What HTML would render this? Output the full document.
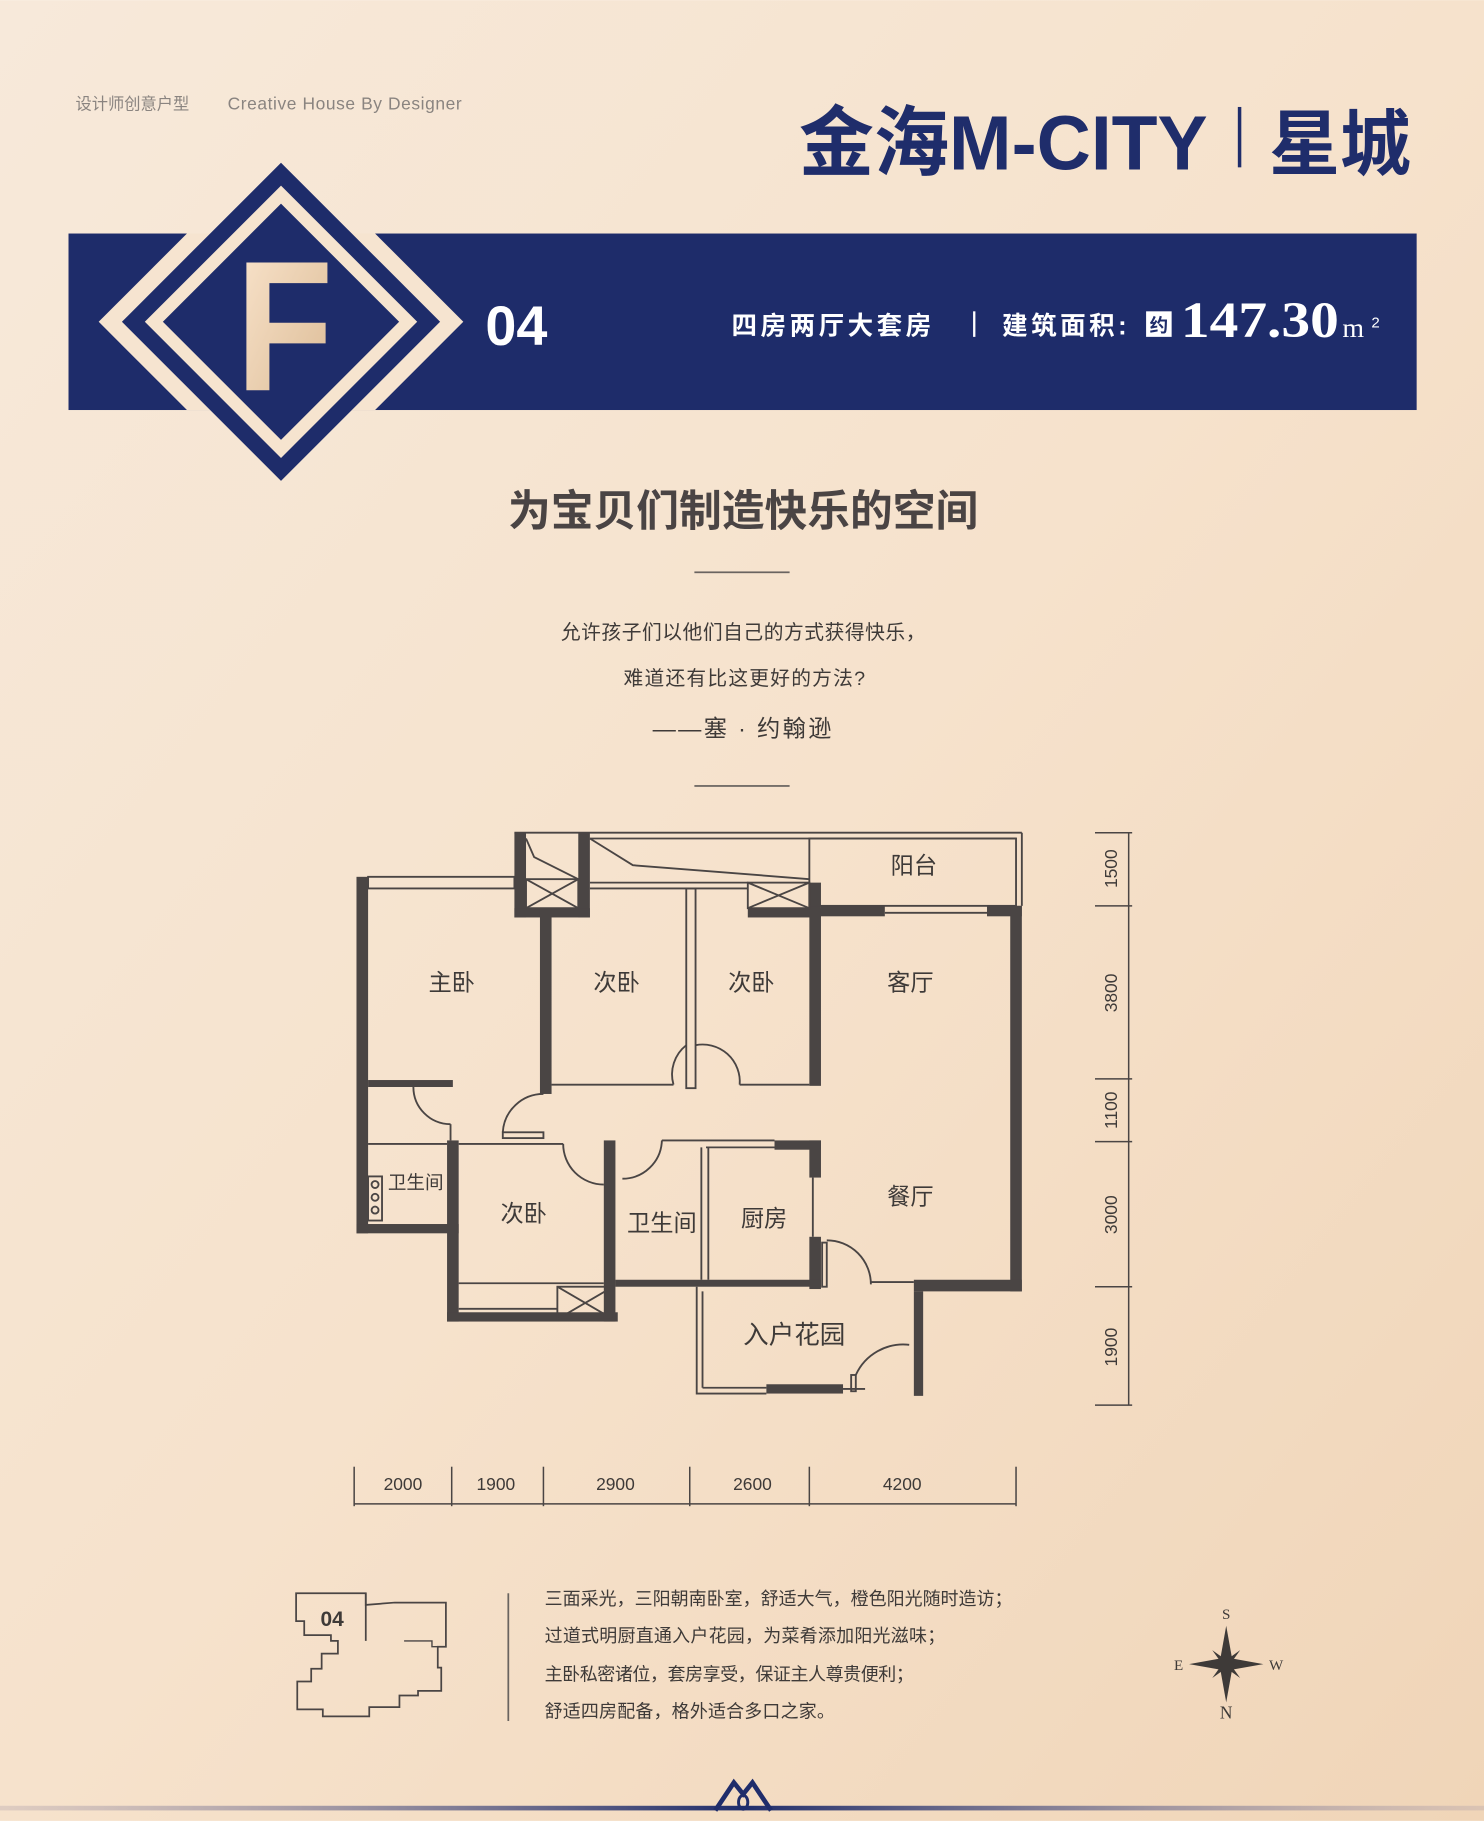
<!DOCTYPE html>
<html><head><meta charset="utf-8"><style>
html,body{margin:0;padding:0;}
body{width:1484px;height:1821px;overflow:hidden;}
svg{display:block;}
.cn{font-family:"Liberation Sans","Noto Sans CJK SC",sans-serif;}
</style></head><body>
<svg width="1484" height="1821" viewBox="0 0 1278 1568" xmlns="http://www.w3.org/2000/svg" class="cn">
<defs>
<linearGradient id="bg" x1="0" y1="0" x2="1" y2="1">
<stop offset="0" stop-color="#f7e9da"/><stop offset="0.5" stop-color="#f6e2cc"/><stop offset="1" stop-color="#f0d5b8"/></linearGradient>
<linearGradient id="fg" x1="0" y1="0" x2="1" y2="1"><stop offset="0" stop-color="#fbe6cf"/><stop offset="1" stop-color="#d9b891"/></linearGradient>
<linearGradient id="bl" x1="0" y1="0" x2="1" y2="0"><stop offset="0" stop-color="#a89aa8" stop-opacity="0.3"/><stop offset="0.5" stop-color="#1f2d6b"/><stop offset="1" stop-color="#a89aa8" stop-opacity="0.3"/></linearGradient>
<clipPath id="bc"><rect x="59" y="201" width="1161" height="152"/></clipPath>
</defs>
<rect width="1278" height="1568" fill="url(#bg)"/>
<text x="65" y="94" font-size="14" fill="#8a8480">设计师创意户型</text>
<text x="196" y="94" font-size="15" fill="#8a8480" letter-spacing="0.5">Creative  House  By  Designer</text>
<text x="688" y="146" font-size="66" font-weight="bold" fill="#1f2d6b" textLength="352" lengthAdjust="spacingAndGlyphs">金海M-CITY</text>
<rect x="1066" y="92" width="3" height="52" fill="#1f2d6b"/>
<text x="1093" y="146" font-size="62" font-weight="bold" fill="#1f2d6b" textLength="122" lengthAdjust="spacingAndGlyphs">星城</text>
<rect x="59" y="201" width="1161" height="152" fill="#1e2c6a"/>
<polygon points="242,120 399,277 242,434 85,277" fill="#f6e4d0" clip-path="url(#bc)"/>
<polygon points="242,140 379,277 242,414 105,277" fill="#1e2c6a"/>
<polygon points="242,167.5 351.5,277 242,386.5 132.5,277" fill="none" stroke="#f6e4cf" stroke-width="11"/>
<text x="245" y="336" font-size="160" font-weight="bold" fill="url(#fg)" text-anchor="middle" font-family="Liberation Sans,sans-serif" textLength="84" lengthAdjust="spacingAndGlyphs">F</text>
<text x="418" y="297" font-size="48" font-weight="bold" fill="#fff" font-family="Liberation Sans,sans-serif">04</text>
<text x="630" y="288" font-size="22" fill="#fff" font-weight="bold" letter-spacing="3">四房两厅大套房</text>
<rect x="838" y="268" width="2" height="22" fill="#fff"/>
<text x="863" y="288" font-size="22" fill="#fff" font-weight="bold" letter-spacing="3">建筑面积:</text>
<rect x="987" y="268" width="22" height="22" fill="#fff"/>
<text x="998" y="286" font-size="16" fill="#1e2c6a" text-anchor="middle" font-weight="bold">约</text>
<text x="1017" y="290" font-size="44" font-weight="bold" fill="#fff" font-family="Liberation Serif,serif" textLength="136" lengthAdjust="spacingAndGlyphs">147.30</text>
<text x="1156" y="290" font-size="24" fill="#fff" font-family="Liberation Serif,serif">m</text>
<text x="1181" y="282" font-size="13" fill="#fff">2</text>
<text x="640" y="453" font-size="37" font-weight="bold" fill="#4a4444" text-anchor="middle" textLength="405" lengthAdjust="spacingAndGlyphs">为宝贝们制造快乐的空间</text>
<rect x="598" y="492" width="82" height="1.5" fill="#6a6460"/>
<text x="640" y="550" font-size="17" fill="#3e3a38" text-anchor="middle" textLength="314">允许孩子们以他们自己的方式获得快乐，</text>
<text x="641" y="590" font-size="17" fill="#3e3a38" text-anchor="middle" textLength="208">难道还有比这更好的方法?</text>
<text x="639" y="634" font-size="20" fill="#3e3a38" text-anchor="middle" textLength="154">——塞 · 约翰逊</text>
<rect x="598" y="676" width="82" height="1.5" fill="#6a6460"/>
<!-- floor plan -->
<g fill="#4a4544" stroke="none">
<rect x="307" y="755" width="10" height="307"/>
<rect x="307" y="1054" width="88" height="8"/>
<rect x="443" y="717" width="10" height="73"/>
<rect x="498" y="717" width="10" height="73"/>
<rect x="443" y="782" width="65" height="8"/>
<rect x="465" y="782" width="10" height="160"/>
<rect x="644" y="782" width="63" height="8"/>
<rect x="697" y="760" width="10" height="175"/>
<rect x="707" y="780" width="55" height="9"/>
<rect x="850" y="780" width="30" height="9"/>
<rect x="870" y="780" width="10" height="332"/>
<rect x="787" y="1102" width="93" height="10"/>
<rect x="787" y="1112" width="8" height="90"/>
<rect x="660" y="1192" width="66" height="8"/>
<rect x="385" y="982" width="10" height="156"/>
<rect x="385" y="1130" width="147" height="8"/>
<rect x="520" y="982" width="10" height="156"/>
<rect x="667" y="982" width="40" height="8"/>
<rect x="697" y="982" width="10" height="32"/>
<rect x="697" y="1065" width="10" height="45"/>
<rect x="530" y="1102" width="177" height="6"/>
<rect x="317" y="930" width="73" height="6"/>
</g>
<g fill="none" stroke="#4a4544" stroke-width="1.6">
<rect x="317" y="755" width="126" height="10"/>
<line x1="443" y1="717" x2="880" y2="717"/><line x1="508" y1="722" x2="875" y2="722"/>
<rect x="697" y="722" width="178" height="58"/><line x1="880" y1="717" x2="880" y2="780"/>
<rect x="453" y="757" width="45" height="25"/><line x1="453" y1="757" x2="498" y2="782"/><line x1="498" y1="757" x2="453" y2="782"/>
<rect x="644" y="760" width="53" height="22"/><line x1="644" y1="760" x2="697" y2="782"/><line x1="697" y1="760" x2="644" y2="782"/>
<polyline points="453,722 460,738 498,757"/><polyline points="508,722 545,745 697,757"/>
<line x1="508" y1="760" x2="644" y2="760"/><line x1="508" y1="765" x2="644" y2="765"/>
<rect x="591" y="765" width="8" height="172"/>
<line x1="475" y1="934" x2="580" y2="934"/><line x1="637" y1="934" x2="697" y2="934"/>
<path d="M580,934 A32,32 0 0 1 591,900"/><path d="M637,934 A32,32 0 0 0 599,900"/>
<line x1="762" y1="786" x2="850" y2="786"/>
<path d="M356,936 A32,32 0 0 0 388,968"/><line x1="388" y1="968" x2="388" y2="982"/>
<line x1="317" y1="985" x2="385" y2="985"/>
<path d="M433,975 A35,35 0 0 1 468,942"/><rect x="433" y="975" width="35" height="5"/>
<line x1="395" y1="985" x2="485" y2="985"/>
<path d="M485,985 A35,35 0 0 0 520,1020"/>
<line x1="570" y1="982" x2="667" y2="982"/><line x1="608" y1="988" x2="667" y2="988"/>
<path d="M570,982 A34,34 0 0 1 536,1015"/>
<line x1="604" y1="988" x2="604" y2="1102"/><line x1="610" y1="988" x2="610" y2="1102"/>
<line x1="395" y1="1105" x2="520" y2="1105"/><line x1="395" y1="1127" x2="480" y2="1127"/>
<rect x="480" y="1108" width="48" height="28"/><line x1="480" y1="1108" x2="528" y2="1136"/><line x1="528" y1="1108" x2="480" y2="1136"/>
<line x1="700" y1="1014" x2="700" y2="1065"/>
<rect x="708" y="1070" width="4" height="38"/><path d="M712,1068 A38,38 0 0 1 750,1106"/>
<line x1="750" y1="1104" x2="787" y2="1104"/>
<polyline points="600,1108 600,1200 660,1200"/><line x1="605" y1="1112" x2="605" y2="1195"/>
<line x1="605" y1="1195" x2="660" y2="1195"/>
<line x1="726" y1="1196" x2="745" y2="1196"/><rect x="733" y="1184" width="4" height="14"/><path d="M737,1184 A45,45 0 0 1 783,1158"/>
<rect x="317" y="1013" width="12" height="38"/><circle cx="323" cy="1020" r="3"/><circle cx="323" cy="1031" r="3"/><circle cx="323" cy="1042" r="3"/>
</g>
<g font-size="20" fill="#3e3a38" text-anchor="middle">
<text x="787" y="752">阳台</text><text x="389" y="853">主卧</text><text x="531" y="853">次卧</text><text x="647" y="853">次卧</text>
<text x="784" y="853">客厅</text><text x="784" y="1037">餐厅</text><text x="451" y="1052">次卧</text>
<text x="570" y="1060">卫生间</text><text x="658" y="1056">厨房</text><text x="684" y="1157" font-size="22">入户花园</text>
<text x="358" y="1024" font-size="16">卫生间</text>
</g>
<!-- dims -->
<g stroke="#4a4544" stroke-width="1.3" fill="none">
<line x1="972" y1="717" x2="972" y2="1210"/>
<line x1="943" y1="717" x2="975" y2="717"/><line x1="943" y1="780" x2="975" y2="780"/><line x1="943" y1="929" x2="975" y2="929"/><line x1="943" y1="983" x2="975" y2="983"/><line x1="943" y1="1108" x2="975" y2="1108"/><line x1="943" y1="1210" x2="975" y2="1210"/>
<line x1="305" y1="1295" x2="875" y2="1295"/>
<line x1="305" y1="1263" x2="305" y2="1297"/><line x1="389" y1="1263" x2="389" y2="1297"/><line x1="468" y1="1263" x2="468" y2="1297"/><line x1="594" y1="1263" x2="594" y2="1297"/><line x1="697" y1="1263" x2="697" y2="1297"/><line x1="875" y1="1263" x2="875" y2="1297"/>
</g>
<g font-size="15" fill="#3e3a38" font-family="Liberation Sans,sans-serif" text-anchor="middle">
<text transform="translate(962,748) rotate(-90)">1500</text><text transform="translate(962,855) rotate(-90)">3800</text>
<text transform="translate(962,956) rotate(-90)">1100</text><text transform="translate(962,1046) rotate(-90)">3000</text>
<text transform="translate(962,1160) rotate(-90)">1900</text>
<text x="347" y="1283">2000</text><text x="427" y="1283">1900</text><text x="530" y="1283">2900</text><text x="648" y="1283">2600</text><text x="777" y="1283">4200</text>
</g>
<!-- bottom -->
<polyline fill="none" stroke="#4a4544" stroke-width="1.5" points="255,1378 255,1372 315,1372 315,1382 340,1380 384,1380 384,1418 377,1418 377,1436 380,1436 380,1456 360,1456 360,1460 344,1460 344,1470 318,1470 318,1478 278,1478 278,1472 256,1472 256,1448 268,1448 268,1437 277,1437 277,1424 291,1424 291,1413 285,1413 285,1408 262,1408 262,1396 255,1396 255,1378"/>
<polyline fill="none" stroke="#4a4544" stroke-width="1.5" points="315,1372 315,1413"/>
<polyline fill="none" stroke="#4a4544" stroke-width="1.2" points="348,1413 372,1413 372,1418 384,1418"/>
<text x="276" y="1400" font-size="18" font-weight="bold" fill="#3e3a38" font-family="Liberation Sans,sans-serif">04</text>
<rect x="437" y="1372" width="1.5" height="110" fill="#6a6460"/>
<g font-size="15.5" fill="#3e3a38">
<text x="469" y="1382" textLength="403">三面采光，三阳朝南卧室，舒适大气，橙色阳光随时造访；</text>
<text x="469" y="1414" textLength="345">过道式明厨直通入户花园，为菜肴添加阳光滋味；</text>
<text x="469" y="1447" textLength="318">主卧私密诸位，套房享受，保证主人尊贵便利；</text>
<text x="469" y="1479" textLength="250">舒适四房配备，格外适合多口之家。</text>
</g>
<g fill="#3e3a38">
<polygon points="1056,1400 1061,1428 1056,1433 1051,1428"/><polygon points="1056,1466 1061,1438 1056,1433 1051,1438"/>
<polygon points="1024,1433 1052,1428 1056,1433 1052,1438"/><polygon points="1088,1433 1060,1428 1056,1433 1060,1438"/>
<polygon points="1044,1421 1058,1431 1056,1433 1054,1435"/><polygon points="1068,1445 1054,1435 1056,1433 1058,1431"/>
<polygon points="1068,1421 1058,1435 1056,1433 1054,1431"/><polygon points="1044,1445 1054,1431 1056,1433 1058,1435"/>
</g>
<g font-size="13" fill="#3e3a38" font-family="Liberation Serif,serif" text-anchor="middle">
<text x="1056" y="1394">S</text><text x="1056" y="1480" font-size="15">N</text><text x="1015" y="1438">E</text><text x="1099" y="1438">W</text>
</g>
<rect x="0" y="1555" width="1278" height="4" fill="url(#bl)"/>
<path d="M616,1559 L632,1535 L640,1545 L648,1535 L664,1559" fill="none" stroke="#1f2d6b" stroke-width="4"/>
<ellipse cx="640" cy="1552" rx="4" ry="6" fill="none" stroke="#1f2d6b" stroke-width="2.5"/>
</svg>
</body></html>
